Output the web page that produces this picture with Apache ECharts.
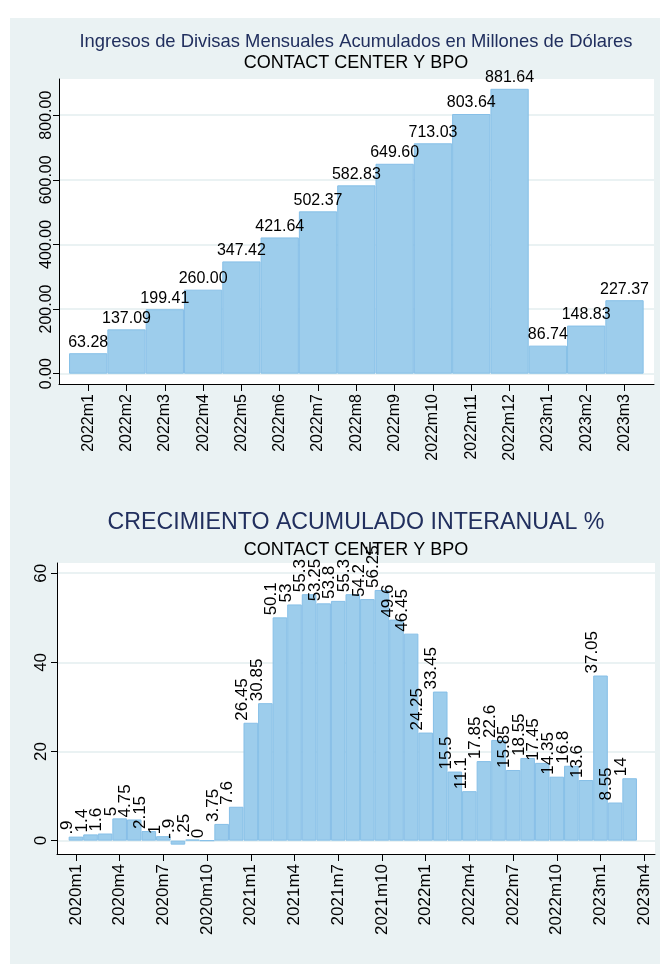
<!DOCTYPE html>
<html>
<head>
<meta charset="utf-8">
<script src="https://cdn.jsdelivr.net/npm/echarts@6/dist/echarts.min.js"></script>
<style>
  html, body { margin: 0; padding: 0; background: #fff; }
  #chart { width: 660px; height: 964px; }
</style>
</head>
<body>
<div id="chart"></div>
<script>
// ingresos de divisas acumulados (millones de dolares)
const mesesIngreso = ['2022m1', '2022m2', '2022m3', '2022m4', '2022m5', '2022m6', '2022m7', '2022m8',
  '2022m9', '2022m10', '2022m11', '2022m12', '2023m1', '2023m2', '2023m3'];
const ingresos = [63.28, 137.09, 199.41, 260.00, 347.42, 421.64, 502.37, 582.83,
  649.60, 713.03, 803.64, 881.64, 86.74, 148.83, 227.37];
const ticksIngreso = [0, 200, 400, 600, 800];

// crecimiento acumulado interanual %, 2020m1 .. 2023m3
const crecimiento = [
  0.9, 1.4, 1.6, 5, 4.75, 2.15, 1, -0.9, 0.25, 0, 3.75, 7.6,
  26.45, 30.85, 50.1, 53, 55.3, 53.25, 53.8, 55.3, 54.2, 56.25, 49.6, 46.45,
  24.25, 33.45, 15.5, 11.1, 17.85, 22.6, 15.85, 18.55, 17.45, 14.35, 16.8, 13.6,
  37.05, 8.55, 14
];
// etiquetas del eje x cada 3 meses
const ticksMes = ['2020m1', '2020m4', '2020m7', '2020m10', '2021m1', '2021m4', '2021m7',
  '2021m10', '2022m1', '2022m4', '2022m7', '2022m10', '2023m1', '2023m4'];
const ticksCrec = [0, 20, 40, 60];

const FONT = 'Liberation Sans, Arial, sans-serif';
const BG = '#eaf2f3';
const BAR = '#9dcdec';
const BAR_BORDER = '#86bfe7';
const NAVY = '#212f5e';

// formato tipo stata: .9, -.9, .25
function stataNum(v) {
  return String(v).replace(/^0\./, '.').replace(/^-0\./, '-.');
}

let chart = echarts.init(document.getElementById('chart'));

let option = {
  animation: false,
  textStyle: { fontFamily: FONT },
  graphic: [
    {
      type: 'rect',
      shape: { x: 10, y: 18, width: 650, height: 946 },
      style: { fill: BG },
      z: -10
    }
  ],
  title: [
    {
      text: 'Ingresos de Divisas Mensuales Acumulados en Millones de Dólares',
      left: 356, top: 33, textAlign: 'center', padding: 0,
      textStyle: { fontSize: 18.4, fontWeight: 'normal', color: NAVY, fontFamily: FONT }
    },
    {
      text: 'CONTACT CENTER Y BPO',
      left: 356, top: 54, textAlign: 'center', padding: 0,
      textStyle: { fontSize: 18, fontWeight: 'normal', color: '#000', fontFamily: FONT }
    },
    {
      text: 'CRECIMIENTO ACUMULADO INTERANUAL %',
      left: 356, top: 511, textAlign: 'center', padding: 0,
      textStyle: { fontSize: 23.2, fontWeight: 'normal', color: NAVY, fontFamily: FONT }
    },
    {
      text: 'CONTACT CENTER Y BPO',
      left: 356, top: 541, textAlign: 'center', padding: 0,
      textStyle: { fontSize: 18, fontWeight: 'normal', color: '#000', fontFamily: FONT }
    }
  ],
  grid: [
    { left: 59, top: 79, width: 595, height: 305, show: true, backgroundColor: '#fff', borderWidth: 0 },
    { left: 57, top: 563, width: 598, height: 291, show: true, backgroundColor: '#fff', borderWidth: 0 }
  ],
  xAxis: [
    {
      type: 'value', gridIndex: 0,
      min: -0.762, max: 14.77,
      axisLine: { onZero: false, lineStyle: { color: '#000', width: 1 } },
      axisTick: { length: 7, lineStyle: { color: '#000' }, customValues: mesesIngreso.map((_, i) => i) },
      axisLabel: {
        customValues: mesesIngreso.map((_, i) => i),
        rotate: 90, margin: 10, fontSize: 16, color: '#000', fontFamily: FONT,
        formatter: v => mesesIngreso[v]
      },
      splitLine: { show: false }
    },
    {
      type: 'value', gridIndex: 1,
      min: -1.3, max: 39.74,
      axisLine: { onZero: false, lineStyle: { color: '#000', width: 1 } },
      axisTick: { length: 7, lineStyle: { color: '#000' }, customValues: ticksMes.map((_, i) => i * 3) },
      axisLabel: {
        customValues: ticksMes.map((_, i) => i * 3),
        rotate: 90, margin: 10, fontSize: 17, color: '#000', fontFamily: FONT,
        formatter: v => ticksMes[v / 3]
      },
      splitLine: { show: false }
    }
  ],
  yAxis: [
    {
      type: 'value', gridIndex: 0,
      min: -32, max: 912,
      axisLine: { show: true, onZero: false, lineStyle: { color: '#000', width: 1 } },
      axisTick: { show: true, length: 6, lineStyle: { color: '#000' }, customValues: ticksIngreso },
      axisLabel: {
        customValues: ticksIngreso,
        rotate: 90, margin: 4, fontSize: 16, color: '#000', fontFamily: FONT,
        formatter: v => v.toFixed(2)
      },
      splitLine: { show: true, lineStyle: { color: BG, width: 2 } }
    },
    {
      type: 'value', gridIndex: 1,
      min: -3, max: 62.3,
      axisLine: { show: true, onZero: false, lineStyle: { color: '#000', width: 1 } },
      axisTick: { show: true, length: 6, lineStyle: { color: '#000' }, customValues: ticksCrec },
      axisLabel: {
        customValues: ticksCrec,
        rotate: 90, margin: 7, fontSize: 17, color: '#000', fontFamily: FONT
      },
      splitLine: { show: true, lineStyle: { color: BG, width: 2 } }
    }
  ],
  series: [
    {
      name: 'ingresos',
      type: 'bar',
      xAxisIndex: 0, yAxisIndex: 0,
      barWidth: 38.3,
      data: ingresos.map((v, i) => [i, v]),
      itemStyle: { color: BAR, borderColor: BAR_BORDER, borderWidth: 1 },
      label: {
        show: true, position: 'top', distance: 3,
        fontSize: 16, color: '#000', fontFamily: FONT,
        formatter: p => p.value[1].toFixed(2)
      }
    },
    {
      name: 'crecimiento',
      type: 'bar',
      xAxisIndex: 1, yAxisIndex: 1,
      barWidth: 14.6,
      data: crecimiento.map((v, i) => [i, v]),
      itemStyle: { color: BAR, borderColor: BAR_BORDER, borderWidth: 1 },
      label: {
        show: true, position: 'top', distance: 2,
        rotate: 90, align: 'left', verticalAlign: 'bottom',
        fontSize: 17, color: '#000', fontFamily: FONT,
        formatter: p => stataNum(p.value[1])
      }
    }
  ]
};

chart.setOption(option);
</script>
</body>
</html>
